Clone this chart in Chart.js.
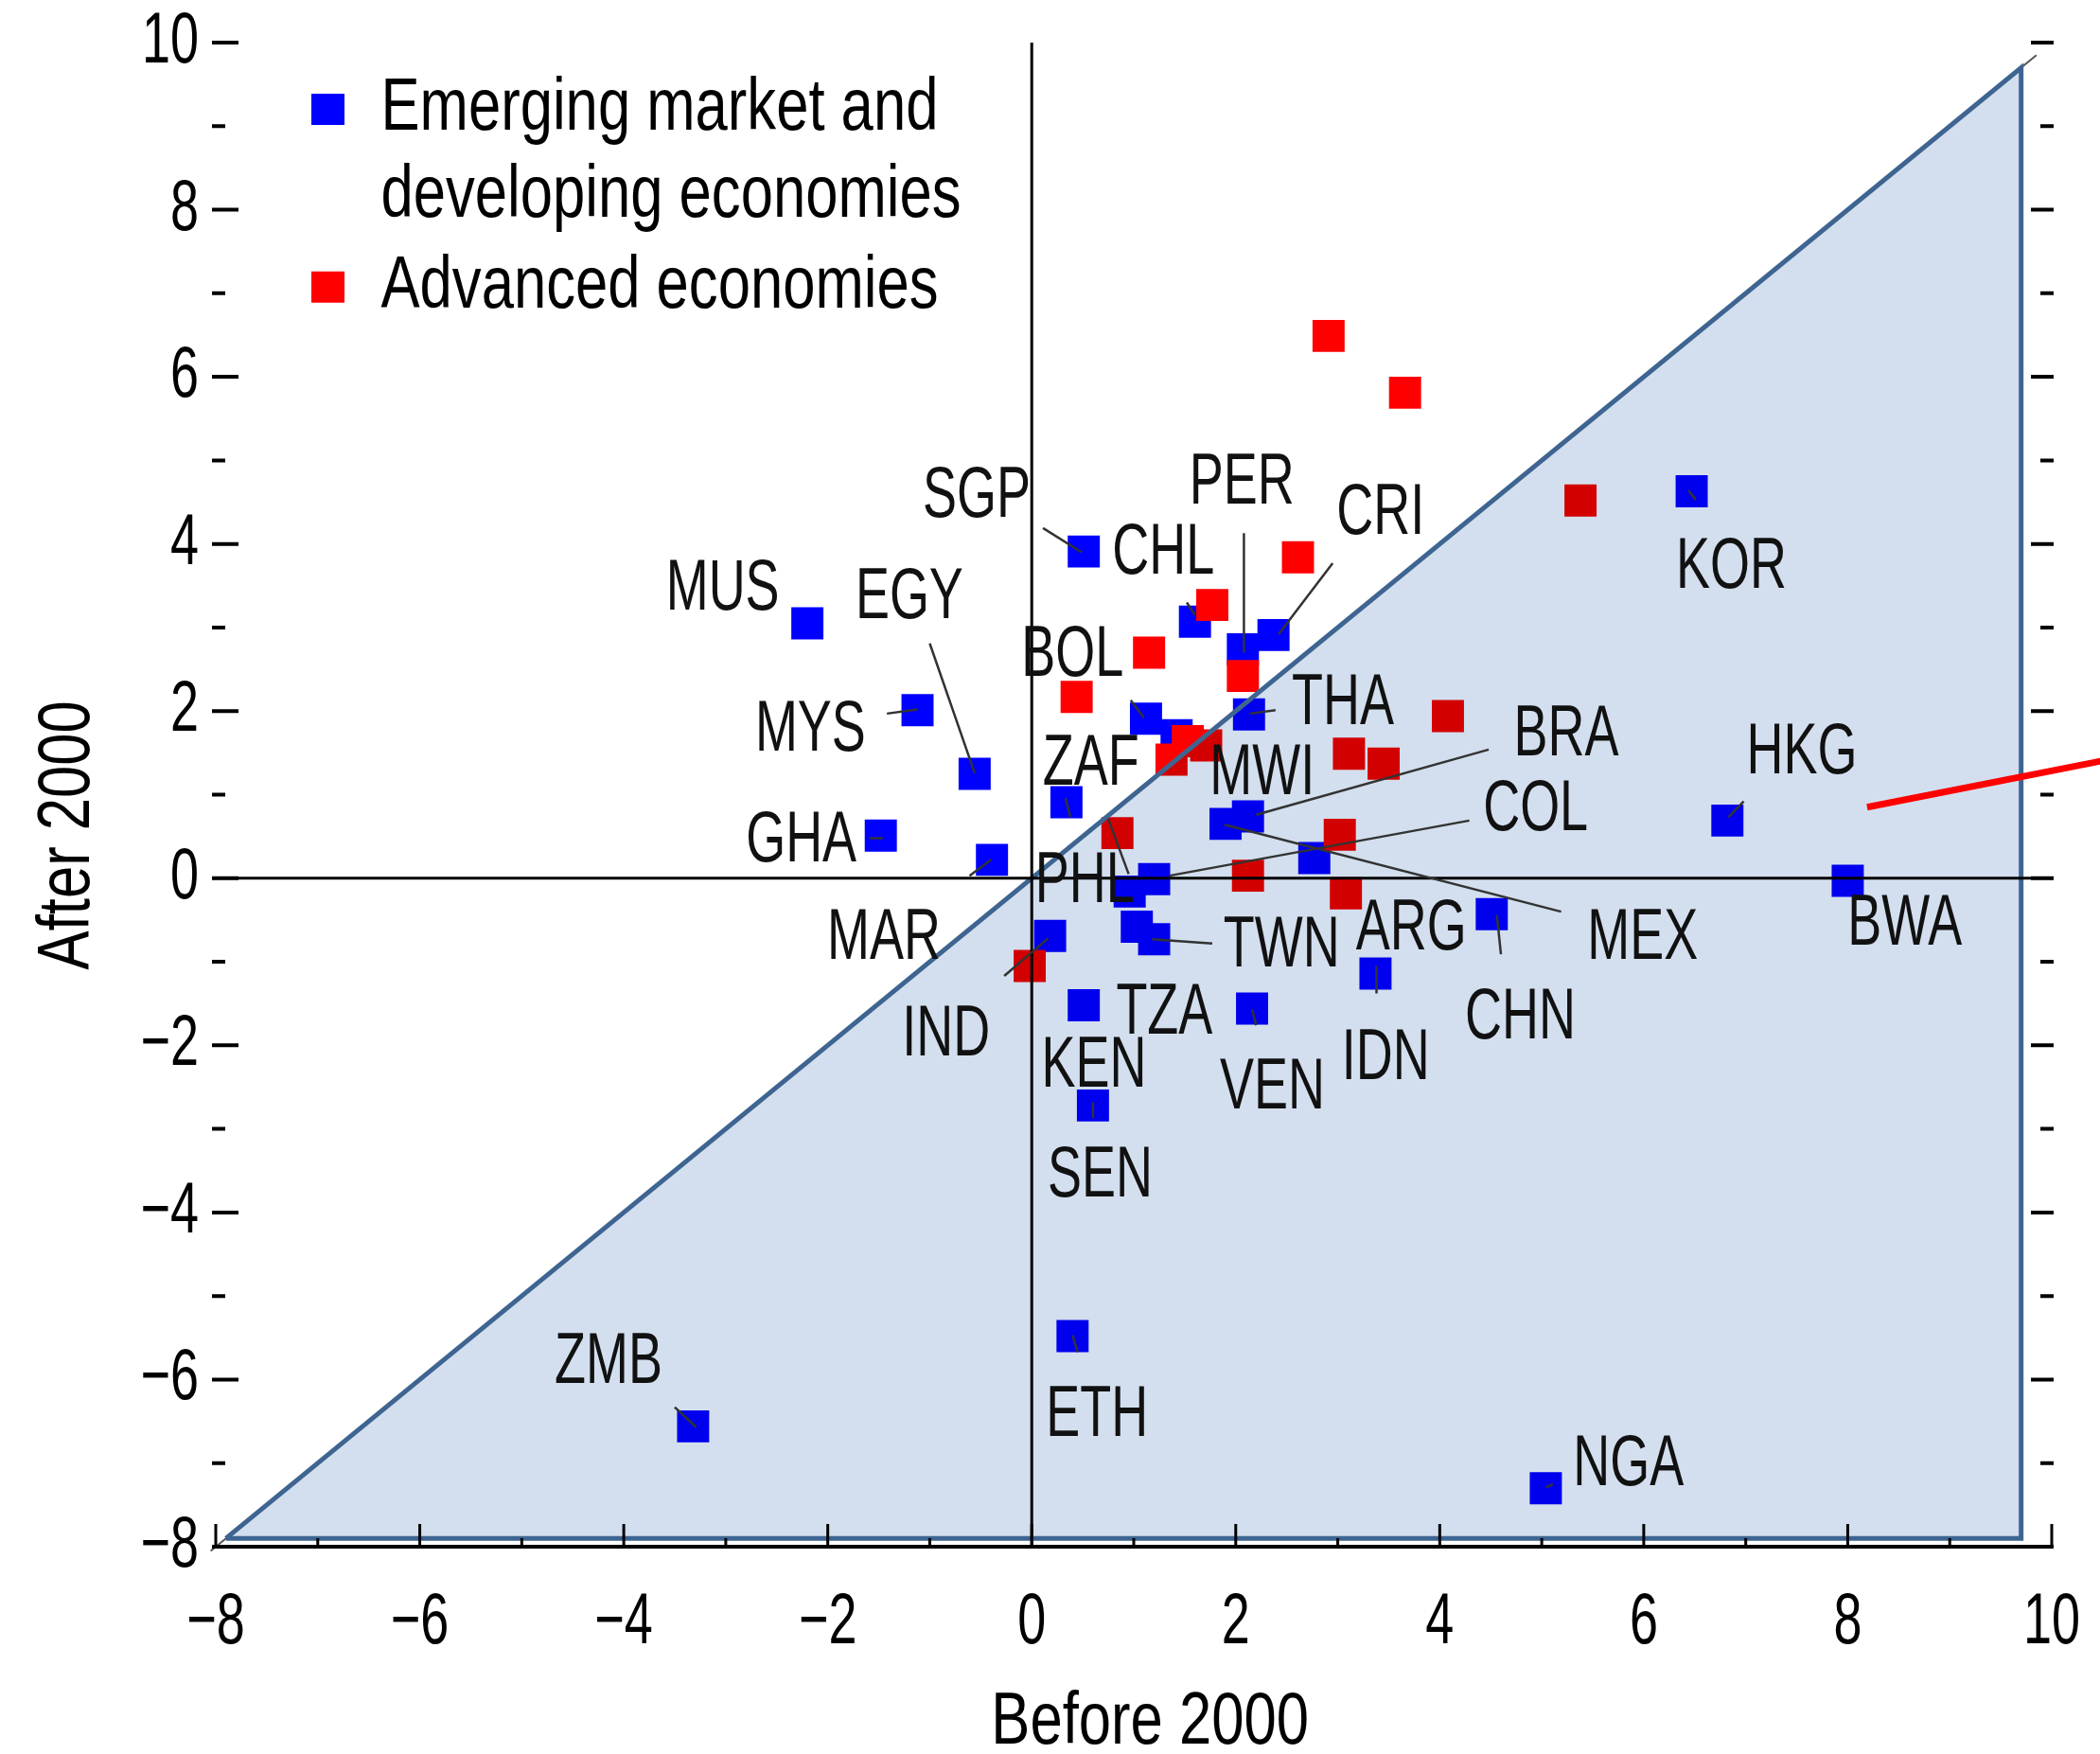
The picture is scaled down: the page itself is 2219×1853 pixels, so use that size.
<!DOCTYPE html>
<html>
<head>
<meta charset="utf-8">
<style>
  html, body { margin: 0; padding: 0; background: #ffffff; }
  canvas { display: block; }
</style>
<script src="https://cdn.jsdelivr.net/npm/chart.js@4.4.1/dist/chart.umd.min.js"></script>
</head>
<body>
<canvas id="c" width="2219" height="1853" style="width:2219px;height:1853px"></canvas>
<script>
// ---------------- data ----------------
const emdeX = [-2.20, -1.12, -0.56, -1.48, -0.39, 0.51, 1.60, 2.07, 2.37, 1.12, 1.42, 2.13, 0.34, 1.90, 2.12, 2.77, 1.20, 0.96, 1.03, 1.20, 0.18, 0.51, 2.16, 0.60, 3.37, 4.51, 6.47, 6.82, 8.00, -3.32, 0.40, 5.04];
const emdeY = [ 3.05,  2.01,  1.25,  0.51,  0.22, 3.91, 3.07, 2.74, 2.91, 1.91, 1.71, 1.96, 0.91, 0.65, 0.74, 0.24, -0.01, -0.16, -0.58, -0.73, -0.69, -1.52, -1.56, -2.72, -1.14, -0.43, 4.63, 0.69, -0.03, -6.56, -5.48, -7.30];

const aeX = [2.91, 3.66, 5.38, 2.61, 1.77, 1.15, 2.07, 0.44, 1.71, 1.37, 1.53, 4.08, 3.11, 3.45, 0.84, 3.02, 2.12, 3.08, -0.02];
const aeY = [6.49, 5.81, 4.52, 3.84, 3.27, 2.70, 2.42, 2.17, 1.59, 1.42, 1.64, 1.94, 1.49, 1.37, 0.54, 0.52, 0.03, -0.18, -1.05];

// shaded region (below the 45-degree line)
const shadeX = [-7.9, 9.7, 9.7, -7.9];
const shadeY = [-7.9, 9.7, -7.9, -7.9];
// thin 45-degree reference line
const diagX = [-8.05, 9.85];
const diagY = [-8.05, 9.85];
// red pointer line
const arrowX = [8.19, 10.6];
const arrowY = [0.85, 1.43];

const tickValues = [-8, -6, -4, -2, 0, 2, 4, 6, 8, 10];

const labelText = ['SGP','CHL','PER','CRI','MUS','EGY','BOL','MYS','THA','ZAF','MWI','BRA','COL','GHA','PHL','MAR','TWN','ARG','MEX','IND','TZA','KEN','VEN','IDN','CHN','SEN','KOR','HKG','BWA','ZMB','ETH','NGA'];
const labelX = [-0.54, 1.29, 2.06, 3.42, -3.03, -1.20, 0.40, -2.17, 3.05, 0.58, 2.26, 5.24, 4.94, -2.26, 0.52, -1.45, 2.45, 3.72, 5.99, -0.84, 1.30, 0.61, 2.36, 3.47, 4.79, 0.67, 6.86, 7.55, 8.56, -4.15, 0.64, 5.85];
const labelY = [ 4.63, 3.95, 4.78, 4.42,  3.52,  3.41, 2.72,  1.83, 2.14, 1.42, 1.31, 1.77, 0.87,  0.50, 0.01, -0.66, -0.76, -0.55, -0.66, -1.82, -1.56, -2.19, -2.45, -2.10, -1.62, -3.51, 3.78, 1.56, -0.50, -5.74, -6.38, -6.96];

const leaderX1 = [0.11, 2.08, 2.95, -1.00, -1.42, 2.14, 2.20, 1.35, 1.89, 0.75, -0.61, 1.18, -0.27, 4.56, 0.97, 0.33, 6.83, -3.50, 0.40, 5.04, 6.44, 3.38, 2.16, 0.60, -1.59, 1.52];
const leaderY1 = [4.19, 4.13, 3.77,  2.81,  1.97, 1.97, 0.76, 0.03, 0.64, 0.71,  0.03, -0.73, -1.17, -0.44, 2.13, 0.96, 0.73, -6.33, -5.47, -7.29, 4.64, -1.05, -1.57, -2.68, 0.48, 3.30];
const leaderX2 = [0.49, 2.08, 2.42, -0.56, -1.12, 2.39, 4.48, 4.29, 5.19, 0.95, -0.40, 1.77, 0.16, 4.60, 1.10, 0.38, 6.98, -3.29, 0.45, 5.11, 6.51, 3.38, 2.20, 0.60, -1.46, 1.60];
const leaderY2 = [3.90, 2.70, 2.92,  1.26,  2.02, 2.01, 1.54, 0.69, -0.40, 0.05, 0.22, -0.78, -0.72, -0.91, 1.92, 0.73, 0.92, -6.57, -5.67, -7.25, 4.53, -1.38, -1.76, -2.87, 0.48, 3.15];

// ---------------- styling ----------------
const FONT = '"Liberation Sans", Arial, sans-serif';
const FS = 76;      // ticks and country labels
const FS_TXT = 77;  // legend and axis titles
// horizontal compression to imitate the narrow typeface of the original
const SQUEEZE = { 76: 0.71, 77: 0.80 };
(function () {
  const proto = CanvasRenderingContext2D.prototype;
  const oFill = proto.fillText, oMeasure = proto.measureText;
  const factor = ctx => {
    const m = /(\d+(?:\.\d+)?)px/.exec(ctx.font);
    return m && SQUEEZE[Math.round(parseFloat(m[1]))] || 1;
  };
  proto.fillText = function (text, x, y, maxWidth) {
    const f = factor(this);
    if (f === 1) return oFill.apply(this, arguments);
    this.save();
    this.translate(x, y);
    this.scale(f, 1);
    if (maxWidth !== undefined) oFill.call(this, text, 0, 0, maxWidth / f);
    else oFill.call(this, text, 0, 0);
    this.restore();
  };
  proto.measureText = function (text) {
    const m = oMeasure.call(this, text);
    const f = factor(this);
    if (f === 1) return m;
    return {
      width: m.width * f,
      actualBoundingBoxLeft: m.actualBoundingBoxLeft * f,
      actualBoundingBoxRight: m.actualBoundingBoxRight * f,
      actualBoundingBoxAscent: m.actualBoundingBoxAscent,
      actualBoundingBoxDescent: m.actualBoundingBoxDescent,
      fontBoundingBoxAscent: m.fontBoundingBoxAscent,
      fontBoundingBoxDescent: m.fontBoundingBoxDescent
    };
  };
})();

Chart.defaults.font.family = FONT;
Chart.defaults.color = '#000';

const pts = (xs, ys) => xs.map((v, i) => ({ x: v, y: ys[i] }));
const fmt = v => (v < 0 ? '\u2212' + Math.abs(v) : String(v));

const decor = {
  id: 'decor',
  afterLayout(chart) {
    const lg = chart.legend, ca = chart.chartArea;
    if (!lg) return;
    lg.left = ca.left + 98; lg.right = lg.left + lg.width;
    lg.top = ca.top + 29; lg.bottom = lg.top + lg.height;
  },
  afterDatasetDraw(chart, args) {
    if (args.index === 1) chart.ctx.globalCompositeOperation = 'multiply';
  },
  beforeDatasetDraw(chart, args) {
    if (args.index === 2) chart.ctx.globalCompositeOperation = 'source-over';
  },
  afterDatasetsDraw(chart) {
    const { ctx, chartArea: ca, scales: { x, y } } = chart;
    ctx.save();
    ctx.globalCompositeOperation = 'source-over';
    // zero lines
    ctx.strokeStyle = '#000';
    ctx.lineWidth = 3;
    ctx.beginPath();
    const x0 = x.getPixelForValue(0), y0 = y.getPixelForValue(0);
    ctx.moveTo(x0, ca.top); ctx.lineTo(x0, ca.bottom);
    ctx.moveTo(ca.left - 4, y0); ctx.lineTo(ca.right + 2, y0);
    ctx.stroke();
    // tick marks (inward), major + minor
    const withMinor = vals => {
      const out = [];
      vals.forEach((v, i) => { out.push([v, true]); if (i < vals.length - 1) out.push([(v + vals[i + 1]) / 2, false]); });
      return out;
    };
    ctx.lineWidth = 4;
    ctx.beginPath();
    withMinor(y.ticks.map(t => t.value)).forEach(([v, major]) => {
      const p = y.getPixelForValue(v);
      ctx.moveTo(ca.left - 4, p); ctx.lineTo(ca.left + (major ? 24 : 10), p);
      ctx.moveTo(ca.right + 2, p); ctx.lineTo(ca.right - (major ? 22 : 12), p);
    });
    ctx.stroke();
    ctx.lineWidth = 3;
    ctx.beginPath();
    withMinor(x.ticks.map(t => t.value)).forEach(([v, major]) => {
      const p = x.getPixelForValue(v);
      ctx.moveTo(p, ca.bottom + 2); ctx.lineTo(p, ca.bottom - (major ? 24 : 9));
    });
    ctx.stroke();
    // leader lines
    ctx.strokeStyle = '#333';
    ctx.lineWidth = 2.5;
    ctx.beginPath();
    leaderX1.forEach((v, i) => {
      ctx.moveTo(x.getPixelForValue(v), y.getPixelForValue(leaderY1[i]));
      ctx.lineTo(x.getPixelForValue(leaderX2[i]), y.getPixelForValue(leaderY2[i]));
    });
    ctx.stroke();
    // country labels
    ctx.font = FS + 'px ' + FONT;
    ctx.fillStyle = '#111';
    ctx.textAlign = 'center';
    ctx.textBaseline = 'alphabetic';
    const cap = ctx.measureText('H').actualBoundingBoxAscent;
    labelText.forEach((t, i) => {
      ctx.fillText(t, x.getPixelForValue(labelX[i]), y.getPixelForValue(labelY[i]) + cap / 2);
    });
    ctx.restore();
  }
};

new Chart(document.getElementById('c'), {
  type: 'scatter',
  data: {
    datasets: [
      { label: ['Emerging market and', 'developing economies'], data: pts(emdeX, emdeY),
        backgroundColor: '#0000ff', borderWidth: 0, pointStyle: 'rect', pointRadius: 24, pointHoverRadius: 24, order: 5 },
      { label: 'Advanced economies', data: pts(aeX, aeY),
        backgroundColor: '#ff0000', borderWidth: 0, pointStyle: 'rect', pointRadius: 24, pointHoverRadius: 24, order: 4 },
      { type: 'line', label: 'shade', data: pts(shadeX, shadeY), fill: 'shape',
        backgroundColor: '#d3dfee', borderColor: '#3e6591', borderWidth: 5, pointRadius: 0, tension: 0, order: 3 },
      { type: 'line', label: 'diag', data: pts(diagX, diagY), fill: false,
        borderColor: '#555555', borderWidth: 2, pointRadius: 0, order: 6, clip: false },
      { type: 'line', label: 'arrow', data: pts(arrowX, arrowY), fill: false,
        borderColor: '#ff0000', borderWidth: 7, pointRadius: 0, order: 1, clip: false }
    ]
  },
  options: {
    responsive: false,
    animation: false,
    events: [],
    layout: { padding: { top: 45, right: 51, bottom: 0, left: 0 } },
    plugins: {
      tooltip: { enabled: false },
      legend: {
        display: true,
        position: 'chartArea',
        align: 'start',
        labels: {
          color: '#000',
          font: { size: FS_TXT, family: FONT, lineHeight: 1.2 },
          boxWidth: 35, boxHeight: 33, padding: 3,
          filter: item => item.datasetIndex < 2,
          sort: (a, b) => a.datasetIndex - b.datasetIndex
        }
      }
    },
    scales: {
      x: {
        type: 'linear', position: 'bottom', min: -8, max: 10,
        afterBuildTicks: s => { s.ticks = tickValues.map(v => ({ value: v })); },
        afterFit: s => { s.height = 219; },
        grid: { display: false, drawTicks: false },
        border: { display: true, color: '#000', width: 4 },
        ticks: { callback: v => fmt(v), color: '#000', autoSkip: false, maxRotation: 0,
                 font: { size: FS, family: FONT, lineHeight: 2.13 }, padding: 0 },
        title: { display: true, text: '  Before 2000', color: '#000',
                 font: { size: FS_TXT, family: FONT, lineHeight: 0.8 }, padding: { top: 0, bottom: 1 } }
      },
      y: {
        type: 'linear', position: 'left', min: -8, max: 10,
        afterBuildTicks: s => { s.ticks = tickValues.map(v => ({ value: v })); },
        afterFit: s => { s.width = 228; },
        grid: { display: false, drawTicks: false },
        border: { display: false },
        ticks: { callback: v => fmt(v), color: '#000', autoSkip: false,
                 font: { size: FS, family: FONT, lineHeight: 0.6 }, padding: 18 },
        title: { display: true, text: 'After 2000     ', color: '#000',
                 font: { size: FS_TXT, family: FONT, lineHeight: 1 }, padding: { top: 34, bottom: 0 } }
      }
    }
  },
  plugins: [decor]
});
</script>
</body>
</html>
